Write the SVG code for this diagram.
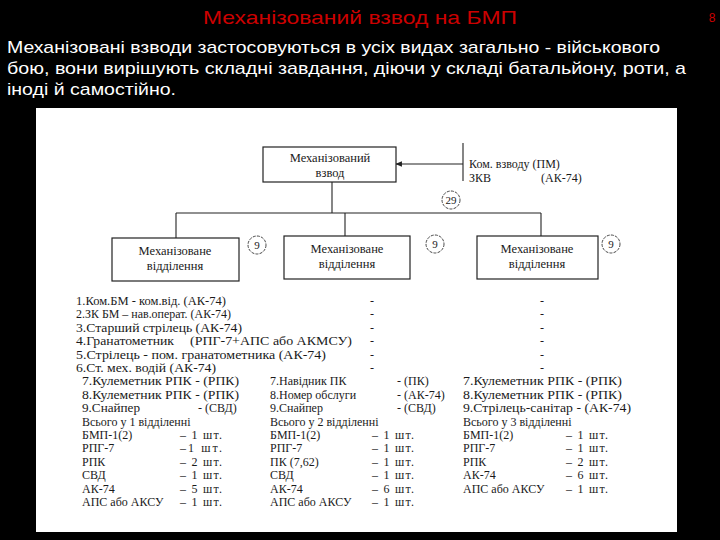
<svg xmlns="http://www.w3.org/2000/svg" width="720" height="540" viewBox="0 0 720 540">
<defs>
<style>
.t{font-family:"Liberation Serif","Times New Roman",serif;font-size:12px;fill:#1a1a1a}
.b{font-family:"Liberation Serif","Times New Roman",serif;font-size:12.5px;fill:#1a1a1a;text-anchor:middle}
.bx{fill:#fff;stroke:#222;stroke-width:1.2}
.ln{stroke:#222;stroke-width:1.1;fill:none}
.cir{fill:none;stroke:#333;stroke-width:0.9;stroke-dasharray:3 1.2}
.n{font-family:"Liberation Serif","Times New Roman",serif;font-size:11px;fill:#1a1a1a;text-anchor:middle}
.hd{font-family:"Liberation Sans",Arial,sans-serif;fill:#fff;font-size:17px}
</style>
<marker id="ah" viewBox="0 0 10 10" refX="9" refY="5" markerWidth="6" markerHeight="6" orient="auto">
<path d="M0,1 L10,5 L0,9 z" fill="#222"/>
</marker>
</defs>
<rect width="720" height="540" fill="#000"/>
<text x="360" y="24" text-anchor="middle" font-family="Liberation Sans,Arial,sans-serif" font-size="19" fill="#cc0000" textLength="314" lengthAdjust="spacingAndGlyphs">Механізований взвод на БМП</text>
<text x="712" y="22" text-anchor="middle" font-family="Liberation Sans,Arial,sans-serif" font-size="12" fill="#cc0000">8</text>
<text class="hd" x="7" y="53" textLength="653" lengthAdjust="spacingAndGlyphs">Механізовані взводи застосовуються в усіх видах загально - військового</text>
<text class="hd" x="7" y="74" textLength="679" lengthAdjust="spacingAndGlyphs">бою, вони вирішують складні завдання, діючи у складі батальйону, роти, а</text>
<text class="hd" x="7" y="95" textLength="169" lengthAdjust="spacingAndGlyphs">іноді й самостійно.</text>
<rect x="36" y="108" width="641" height="424" fill="#fff"/>

<g id="connectors">
<line class="ln" x1="463" y1="143" x2="463" y2="181"/>
<line class="ln" x1="463" y1="164" x2="396" y2="164" marker-end="url(#ah)"/>
<line class="ln" x1="332" y1="182" x2="332" y2="213"/>
<line class="ln" x1="176" y1="213" x2="541" y2="213"/>
<line class="ln" x1="176" y1="213" x2="176" y2="238"/>
<line class="ln" x1="345" y1="213" x2="345" y2="236"/>
<line class="ln" x1="541" y1="213" x2="541" y2="236"/>
</g>

<g id="platoon">
<rect class="bx" x="263" y="147" width="133" height="35"/>
<text class="b" x="330" y="162">Механізований</text>
<text class="b" x="330" y="177">взвод</text>
</g>
<g id="command">
<text class="t" x="469" y="168" font-size="12.5">Ком. взводу (ПМ)</text>
<text class="t" x="469" y="182" font-size="12.5">ЗКВ</text>
<text class="t" x="541" y="182" font-size="12.5">(АК-74)</text>
</g>
<g id="total29">
<circle class="cir" cx="451" cy="200" r="9"/>
<text class="n" x="451" y="204">29</text>
</g>

<g id="squad1">
<rect class="bx" x="112" y="238" width="127" height="43"/>
<text class="b" x="175" y="255">Механізоване</text>
<text class="b" x="175" y="270">відділення</text>
<circle class="cir" cx="257" cy="245" r="9"/>
<text class="n" x="257" y="249">9</text>
</g>
<g id="squad2">
<rect class="bx" x="284" y="236" width="126" height="43"/>
<text class="b" x="347" y="253">Механізоване</text>
<text class="b" x="347" y="268">відділення</text>
<circle class="cir" cx="435" cy="244" r="9"/>
<text class="n" x="435" y="248">9</text>
</g>
<g id="squad3">
<rect class="bx" x="477" y="236" width="121" height="43"/>
<text class="b" x="537" y="253">Механізоване</text>
<text class="b" x="537" y="268">відділення</text>
<circle class="cir" cx="611" cy="244" r="9"/>
<text class="n" x="611" y="248">9</text>
</g>

<g id="common-list" class="t">
<text x="76" y="305" textLength="150" lengthAdjust="spacingAndGlyphs">1.Ком.БМ - ком.від. (АК-74)</text>
<text x="76" y="318.4" textLength="155" lengthAdjust="spacingAndGlyphs">2.ЗК БМ – нав.операт. (АК-74)</text>
<text x="76" y="331.8" textLength="166" lengthAdjust="spacingAndGlyphs">3.Старший стрілець (АК-74)</text>
<text x="76" y="345.2" textLength="98" lengthAdjust="spacingAndGlyphs">4.Гранатометник</text>
<text x="190" y="345.2" textLength="162" lengthAdjust="spacingAndGlyphs">(РПГ-7+АПС або АКМСУ)</text>
<text x="76" y="358.6" textLength="250" lengthAdjust="spacingAndGlyphs">5.Стрілець - пом. гранатометника (АК-74)</text>
<text x="76" y="372" textLength="140" lengthAdjust="spacingAndGlyphs">6.Ст. мех. водій (АК-74)</text>
<text x="370" y="305">-</text><text x="370" y="318.4">-</text><text x="370" y="331.8">-</text><text x="370" y="345.2">-</text><text x="370" y="358.6">-</text><text x="370" y="372">-</text>
<text x="540" y="305">-</text><text x="540" y="318.4">-</text><text x="540" y="331.8">-</text><text x="540" y="345.2">-</text><text x="540" y="358.6">-</text><text x="540" y="372">-</text>
</g>

<g id="list1" class="t">
<text x="82" y="385.4" textLength="157" lengthAdjust="spacingAndGlyphs">7.Кулеметник РПК - (РПК)</text>
<text x="82" y="398.8" textLength="157" lengthAdjust="spacingAndGlyphs">8.Кулеметник РПК - (РПК)</text>
<text x="82" y="412.2" textLength="58" lengthAdjust="spacingAndGlyphs">9.Снайпер</text><text x="198" y="412.2">- (СВД)</text>
<text x="82" y="425.6">Всього у 1 відділенні</text>
<text x="82" y="439">БМП-1(2)</text><text x="180" y="439" textLength="42" lengthAdjust="spacing">– 1 шт.</text>
<text x="82" y="452.4">РПГ-7</text><text x="180" y="452.4" textLength="42" lengthAdjust="spacing">–1 шт.</text>
<text x="82" y="465.8">РПК</text><text x="180" y="465.8" textLength="42" lengthAdjust="spacing">– 2 шт.</text>
<text x="82" y="479.2">СВД</text><text x="180" y="479.2" textLength="42" lengthAdjust="spacing">– 1 шт.</text>
<text x="82" y="492.6">АК-74</text><text x="180" y="492.6" textLength="42" lengthAdjust="spacing">– 5 шт.</text>
<text x="82" y="506">АПС або АКСУ</text><text x="180" y="506" textLength="42" lengthAdjust="spacing">– 1 шт.</text>
</g>

<g id="list2" class="t">
<text x="270" y="385.4">7.Навідник ПК</text><text x="397" y="385.4">- (ПК)</text>
<text x="270" y="398.8">8.Номер обслуги</text><text x="397" y="398.8">- (АК-74)</text>
<text x="270" y="412.2">9.Снайпер</text><text x="397" y="412.2">- (СВД)</text>
<text x="270" y="425.6">Всього у 2 відділенні</text>
<text x="270" y="439">БМП-1(2)</text><text x="372" y="439" textLength="42" lengthAdjust="spacing">– 1 шт.</text>
<text x="270" y="452.4">РПГ-7</text><text x="372" y="452.4" textLength="42" lengthAdjust="spacing">– 1 шт.</text>
<text x="270" y="465.8">ПК (7,62)</text><text x="372" y="465.8" textLength="42" lengthAdjust="spacing">– 1 шт.</text>
<text x="270" y="479.2">СВД</text><text x="372" y="479.2" textLength="42" lengthAdjust="spacing">– 1 шт.</text>
<text x="270" y="492.6">АК-74</text><text x="372" y="492.6" textLength="42" lengthAdjust="spacing">– 6 шт.</text>
<text x="270" y="506">АПС або АКСУ</text><text x="372" y="506" textLength="42" lengthAdjust="spacing">– 1 шт.</text>
</g>

<g id="list3" class="t">
<text x="463" y="385.4" textLength="159" lengthAdjust="spacingAndGlyphs">7.Кулеметник РПК - (РПК)</text>
<text x="463" y="398.8" textLength="159" lengthAdjust="spacingAndGlyphs">8.Кулеметник РПК - (РПК)</text>
<text x="463" y="412.2" textLength="168" lengthAdjust="spacingAndGlyphs">9.Стрілець-санітар - (АК-74)</text>
<text x="463" y="425.6">Всього у 3 відділенні</text>
<text x="463" y="439">БМП-1(2)</text><text x="566" y="439" textLength="42" lengthAdjust="spacing">– 1 шт.</text>
<text x="463" y="452.4">РПГ-7</text><text x="566" y="452.4" textLength="42" lengthAdjust="spacing">– 1 шт.</text>
<text x="463" y="465.8">РПК</text><text x="566" y="465.8" textLength="42" lengthAdjust="spacing">– 2 шт.</text>
<text x="463" y="479.2">АК-74</text><text x="566" y="479.2" textLength="42" lengthAdjust="spacing">– 6 шт.</text>
<text x="463" y="492.6">АПС або АКСУ</text><text x="566" y="492.6" textLength="42" lengthAdjust="spacing">– 1 шт.</text>
</g>
</svg>
